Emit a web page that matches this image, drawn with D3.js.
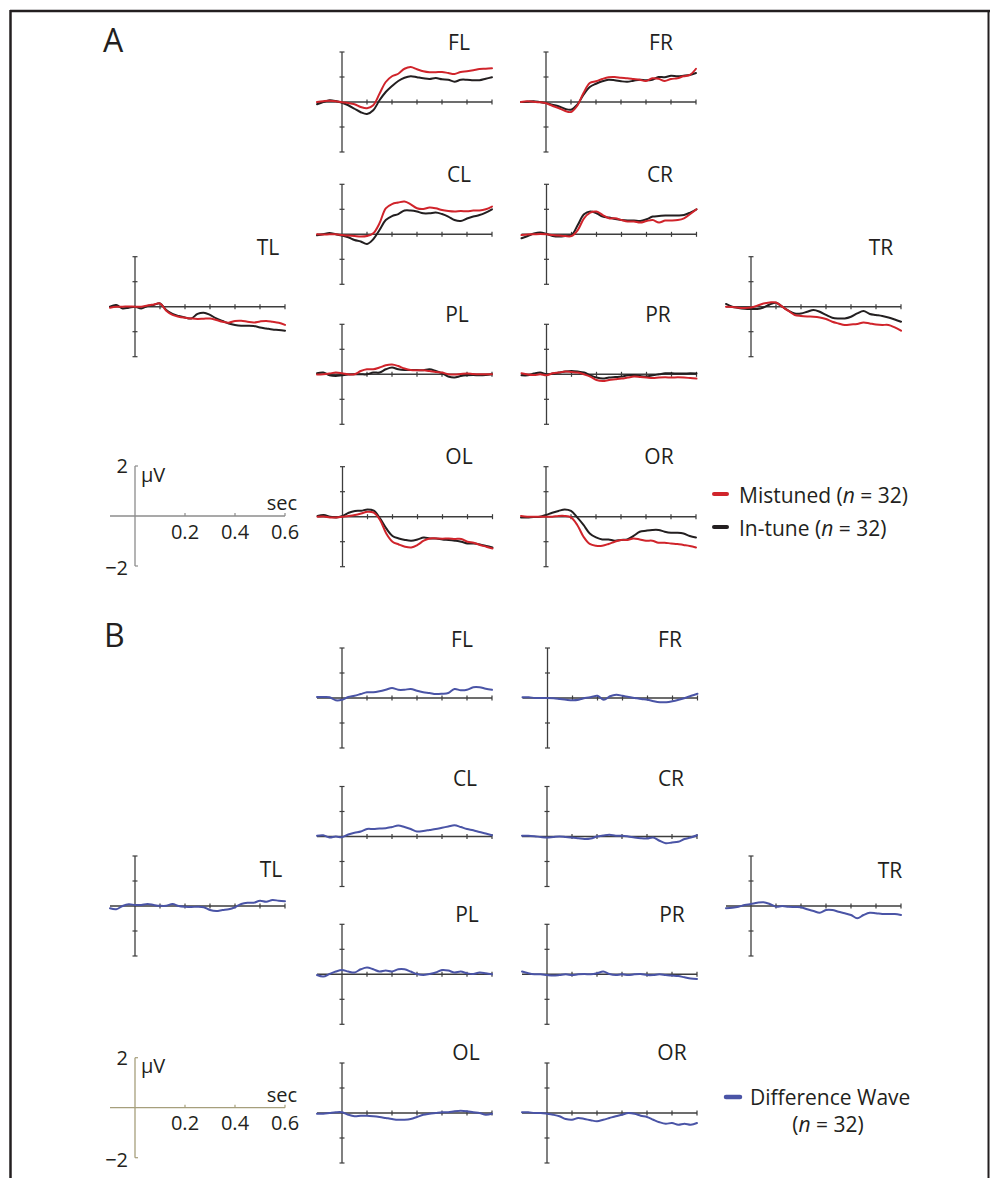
<!DOCTYPE html>
<html><head><meta charset="utf-8">
<script src="https://cdn.jsdelivr.net/npm/d3@7"></script>
<style>
html,body{margin:0;padding:0;background:#fff;}
svg{display:block;}
text{font-family:"Open Sans","Noto Sans",sans-serif;fill:#231f20;}
</style></head>
<body>
<svg id="chart" width="990" height="1178"></svg>
<script>
// ---------- DATA ----------
const times = [-0.1,-0.075,-0.05,-0.025,0,0.025,0.05,0.075,0.1,0.125,0.15,0.175,0.2,0.225,0.25,0.275,0.3,0.325,0.35,0.375,0.4,0.425,0.45,0.475,0.5,0.525,0.55,0.575,0.6];
const xTicks = [0.1,0.2,0.3,0.4,0.5,0.6];
const yTicks = [-2,-1,1,2];
const scaleXTicks = [0.2,0.4,0.6];
const scaleXTickLabels = ["0.2","0.4","0.6"];
const electrodes = ["FL","FR","CL","CR","TL","TR","PL","PR","OL","OR"];
const legendA = ["Mistuned","In-tune"];
const legendB = ["Difference Wave"];

// Panel A: mistuned (red) and in-tune (black), µV
const mistunedFL = [0,0.03,0.05,0.03,-0.01,-0.04,-0.09,-0.2,-0.25,-0.13,0.33,0.8,1.03,1.13,1.33,1.4,1.31,1.23,1.19,1.19,1.2,1.16,1.12,1.2,1.23,1.27,1.32,1.33,1.35];
const intuneFL   = [-0.09,0,0.07,0.04,-0.03,-0.13,-0.27,-0.41,-0.48,-0.33,0.07,0.4,0.64,0.84,0.97,1.03,0.99,0.95,0.92,0.96,0.91,0.89,0.81,0.89,0.89,0.87,0.87,0.93,0.99];
const mistunedFR = [0,0.03,0.01,-0.01,-0.05,-0.15,-0.24,-0.35,-0.4,-0.15,0.36,0.76,0.83,0.92,0.99,1.0,0.97,0.95,0.92,0.89,0.84,0.95,0.93,0.84,0.92,0.95,1.03,1.08,1.33];
const intuneFR   = [0,0.01,0.03,0,-0.04,-0.11,-0.17,-0.27,-0.31,-0.11,0.29,0.6,0.73,0.83,0.89,0.87,0.83,0.81,0.85,0.89,0.87,0.89,1.0,0.99,1.05,1.03,1.05,1.08,1.16];
const mistunedCL = [0,-0.01,0,0,-0.03,-0.05,-0.07,-0.09,-0.07,0.04,0.44,1.04,1.21,1.27,1.31,1.2,1.04,1.01,1.07,1.04,0.97,0.93,0.91,0.93,0.92,0.95,0.95,1.0,1.11];
const intuneCL   = [-0.04,0,0.05,0,-0.05,-0.12,-0.23,-0.29,-0.39,-0.2,0.17,0.57,0.73,0.81,0.95,0.95,0.91,0.84,0.84,0.87,0.81,0.71,0.57,0.53,0.63,0.71,0.77,0.87,1.0];
const mistunedCR = [-0.03,-0.01,0,0.01,0,-0.03,-0.05,-0.07,-0.07,0.17,0.64,0.87,0.91,0.77,0.64,0.64,0.57,0.51,0.51,0.47,0.53,0.57,0.47,0.55,0.55,0.57,0.64,0.81,1.0];
const intuneCR   = [-0.16,-0.07,0.03,0.07,0.01,-0.07,-0.09,-0.07,-0.03,0.37,0.8,0.91,0.84,0.71,0.67,0.61,0.57,0.55,0.55,0.53,0.6,0.71,0.73,0.75,0.75,0.75,0.77,0.87,1.0];
const mistunedTL = [-0.04,0,0,0.01,0,0,0.05,0.09,0.13,-0.16,-0.33,-0.4,-0.44,-0.47,-0.49,-0.48,-0.47,-0.53,-0.6,-0.64,-0.57,-0.56,-0.6,-0.63,-0.59,-0.57,-0.6,-0.64,-0.73];
const intuneTL   = [0,0.07,-0.07,-0.04,0,-0.07,0.03,0.07,0.13,-0.13,-0.29,-0.37,-0.43,-0.47,-0.29,-0.24,-0.33,-0.47,-0.57,-0.67,-0.73,-0.76,-0.76,-0.77,-0.83,-0.87,-0.91,-0.93,-0.96];
const mistunedTR = [0,-0.01,-0.04,-0.05,-0.03,0.04,0.13,0.17,0.17,0,-0.17,-0.33,-0.37,-0.39,-0.4,-0.43,-0.49,-0.6,-0.67,-0.73,-0.71,-0.69,-0.63,-0.67,-0.71,-0.73,-0.73,-0.83,-0.96];
const intuneTR   = [0.11,0,-0.05,-0.08,-0.09,-0.09,-0.03,0.09,0.16,0,-0.16,-0.27,-0.27,-0.2,-0.13,-0.2,-0.33,-0.44,-0.47,-0.47,-0.4,-0.27,-0.17,-0.29,-0.33,-0.37,-0.43,-0.51,-0.6];
const mistunedPL = [-0.01,0,0.03,0.07,0.04,0,0,0.13,0.2,0.2,0.27,0.36,0.39,0.33,0.23,0.17,0.16,0.16,0.13,0.09,0.07,0,-0.01,0.01,0.03,0.01,0,0,0];
const intunePL   = [0.04,0.07,-0.04,-0.07,-0.04,-0.01,0,0,0,0.07,0.07,0.2,0.27,0.2,0.17,0.17,0.17,0.16,0.2,0.13,0.04,-0.09,-0.13,-0.07,-0.04,-0.03,-0.04,-0.03,0];
const mistunedPR = [0.04,-0.01,-0.03,0,-0.04,0.04,0.07,0.11,0.09,0.07,0,-0.09,-0.23,-0.27,-0.23,-0.2,-0.17,-0.13,-0.09,-0.11,-0.13,-0.15,-0.13,-0.12,-0.13,-0.12,-0.13,-0.15,-0.17];
const intunePR   = [-0.04,-0.04,0.03,0.07,0,0.03,0.07,0.11,0.13,0.11,0.07,-0.04,-0.13,-0.17,-0.13,-0.11,-0.09,-0.04,-0.03,-0.07,-0.09,-0.04,0,0.04,0.04,0.03,0.03,0.04,0.03];
const mistunedOL = [0,0.01,-0.03,-0.03,0,0.03,0.07,0.13,0.2,0.16,-0.13,-0.67,-1.0,-1.11,-1.2,-1.23,-1.13,-0.96,-0.87,-0.87,-0.88,-0.87,-0.89,-0.89,-1.0,-1.04,-1.13,-1.2,-1.27];
const intuneOL   = [0.03,0.07,0,-0.03,0.03,0.16,0.23,0.24,0.29,0.24,-0.07,-0.47,-0.77,-0.87,-0.93,-0.96,-0.91,-0.83,-0.87,-0.87,-0.91,-0.93,-0.96,-1.0,-1.07,-1.07,-1.11,-1.17,-1.23];
const mistunedOR = [0.03,0,0,0,0,0,0.03,0.03,-0.03,-0.33,-0.8,-1.09,-1.16,-1.16,-1.09,-1.0,-0.93,-0.93,-0.87,-0.91,-0.96,-0.96,-1.04,-1.04,-1.07,-1.09,-1.13,-1.17,-1.23];
const intuneOR   = [-0.03,-0.03,-0.01,0,0.07,0.16,0.23,0.29,0.23,-0.03,-0.33,-0.67,-0.83,-0.91,-0.91,-0.96,-0.93,-0.91,-0.77,-0.6,-0.56,-0.53,-0.53,-0.6,-0.64,-0.64,-0.67,-0.77,-0.83];

// Panel B: difference waves, µV
const diffFL = [0.04,0.04,0.03,-0.09,-0.07,0.04,0.09,0.16,0.23,0.23,0.27,0.33,0.4,0.33,0.33,0.36,0.29,0.23,0.2,0.16,0.17,0.2,0.36,0.31,0.33,0.43,0.43,0.37,0.33];
const diffFR = [0.03,0.03,0,0,0,-0.01,-0.04,-0.07,-0.09,-0.07,0,0.04,0.09,-0.07,0.07,0.13,0.09,0.04,0,-0.04,-0.07,-0.13,-0.17,-0.17,-0.13,-0.07,0,0.09,0.17];
const diffCL = [0.03,0.05,-0.04,0,-0.03,0.08,0.15,0.2,0.3,0.3,0.32,0.33,0.38,0.44,0.38,0.3,0.2,0.22,0.26,0.3,0.35,0.4,0.45,0.38,0.3,0.25,0.18,0.12,0.05];
const diffCR = [0.03,0.03,0.01,-0.02,-0.04,-0.02,0,-0.02,-0.04,-0.07,-0.1,-0.08,0,0.04,0.07,0.03,0.03,0,-0.04,-0.07,-0.08,-0.04,-0.17,-0.27,-0.24,-0.21,-0.1,-0.04,0.05];
const diffTL = [-0.09,-0.13,0,0.07,0.04,0.04,0.08,0.04,0.01,0.01,0.08,0,-0.03,-0.04,-0.03,-0.05,-0.16,-0.2,-0.16,-0.13,-0.05,0.08,0.13,0.13,0.21,0.17,0.24,0.21,0.19];
const diffTR = [-0.09,-0.07,-0.03,0.04,0.08,0.13,0.15,0.08,-0.03,0,-0.03,-0.04,-0.05,-0.13,-0.2,-0.27,-0.16,-0.16,-0.23,-0.29,-0.36,-0.49,-0.36,-0.27,-0.29,-0.32,-0.32,-0.32,-0.36];
const diffPL = [-0.03,-0.09,0.01,0.11,0.17,0.11,0.07,0.2,0.27,0.2,0.11,0.15,0.11,0.2,0.2,0.11,0.01,-0.03,0.01,0.07,0.17,0.15,0.07,0.11,0.04,0.01,0.07,0.04,0];
const diffPR = [0.11,0.04,0,0,-0.03,-0.05,-0.03,0,-0.03,0,0.01,0,0.04,0.11,0.01,-0.03,0,-0.03,0,0.01,-0.03,-0.03,0,-0.03,-0.05,-0.07,-0.12,-0.17,-0.19];
const diffOL = [-0.03,-0.03,0,0.03,0.03,-0.07,-0.13,-0.11,-0.11,-0.13,-0.16,-0.2,-0.24,-0.27,-0.27,-0.24,-0.16,-0.07,-0.03,0,0.03,0.03,0.07,0.09,0.07,0.03,0,-0.07,-0.03];
const diffOR = [0.03,0.03,0,0,-0.03,-0.07,-0.13,-0.24,-0.27,-0.2,-0.24,-0.29,-0.33,-0.27,-0.2,-0.13,-0.07,0,-0.03,-0.11,-0.16,-0.27,-0.37,-0.43,-0.4,-0.47,-0.43,-0.47,-0.4];

// ---------- LAYOUT ----------
const svg = d3.select("#chart");
const INK = "#231f20", AXIS = "#3d3d3d";
const RED = "#d0242b", BLUE = "#4a54a6";

// frame
svg.append("line").attr("x1",10).attr("x2",990).attr("y1",11).attr("y2",11).attr("stroke",INK).attr("stroke-width",2.5);
svg.append("line").attr("x1",10.5).attr("x2",10.5).attr("y1",10).attr("y2",1178).attr("stroke",INK).attr("stroke-width",2.5);
svg.append("line").attr("x1",988.5).attr("x2",988.5).attr("y1",10).attr("y2",1178).attr("stroke",INK).attr("stroke-width",2);

svg.append("text").attr("x",103).attr("y",51.5).attr("font-size",32).text("A");
svg.append("text").attr("x",104).attr("y",647).attr("font-size",32).text("B");

function makeScales(x0,y0){
  const x = d3.scaleLinear().domain([-0.1,0.6]).range([x0-25,x0+150]);
  const y = d3.scaleLinear().domain([-2,2]).range([y0+50,y0-50]);
  return {x,y};
}

function panel(p, series){
  const {x,y} = makeScales(p.x0,p.y0);
  const g = svg.append("g");
  g.append("line").attr("x1",x(0)).attr("x2",x(0)).attr("y1",y(2)).attr("y2",y(-2)).attr("stroke",AXIS).attr("stroke-width",1.3);
  g.selectAll(".yt").data(yTicks).enter().append("line")
    .attr("x1",x(0)-2.5).attr("x2",x(0)+2.5).attr("y1",d=>y(d)).attr("y2",d=>y(d)).attr("stroke",AXIS).attr("stroke-width",1.2);
  g.append("line").attr("x1",x(-0.1)).attr("x2",x(0.6)).attr("y1",y(0)).attr("y2",y(0)).attr("stroke",AXIS).attr("stroke-width",1.4);
  g.selectAll(".xt").data(xTicks).enter().append("line")
    .attr("x1",d=>x(d)).attr("x2",d=>x(d)).attr("y1",y(0)-2.5).attr("y2",y(0)+2.5).attr("stroke",AXIS).attr("stroke-width",1.2);
  g.append("text").attr("x",p.lx).attr("y",p.ly).attr("text-anchor","middle").attr("font-size",21).text(p.name);
  const line = d3.line().x((d,i)=>x(times[i])).y(d=>y(d)).curve(d3.curveCatmullRom.alpha(0.5));
  series.forEach(s=>{
    g.append("path").attr("d",line(s.values)).attr("fill","none").attr("stroke",s.color)
      .attr("stroke-width",2).attr("stroke-linejoin","round").attr("stroke-linecap","round");
  });
}

function scaleAxis(x0,y0,color){
  const {x,y} = makeScales(x0,y0);
  const g = svg.append("g");
  g.append("line").attr("x1",x(0)).attr("x2",x(0)).attr("y1",y(2)).attr("y2",y(-2)).attr("stroke",color).attr("stroke-width",1.3);
  [2,-2].forEach(v=>g.append("line").attr("x1",x(0)).attr("x2",x(0)+3).attr("y1",y(v)).attr("y2",y(v)).attr("stroke",color).attr("stroke-width",1.2));
  g.append("line").attr("x1",x(-0.1)).attr("x2",x(0.6)).attr("y1",y(0)).attr("y2",y(0)).attr("stroke",color).attr("stroke-width",1.3);
  g.selectAll(".st").data(scaleXTicks).enter().append("line")
    .attr("x1",d=>x(d)).attr("x2",d=>x(d)).attr("y1",y(0)-3).attr("y2",y(0)).attr("stroke",color).attr("stroke-width",1.2);
  g.selectAll(".sl").data(scaleXTicks).enter().append("text")
    .attr("x",d=>x(d)).attr("y",y(0)+22.5).attr("text-anchor","middle").attr("font-size",20)
    .text((d,i)=>scaleXTickLabels[i]);
  g.append("text").attr("x",x(0)-7).attr("y",y(2)+7).attr("text-anchor","end").attr("font-size",20).text("2");
  g.append("text").attr("x",x(0)-7).attr("y",y(-2)+9).attr("text-anchor","end").attr("font-size",20).text("\u22122");
  g.append("text").attr("x",x(0)+6).attr("y",y(2)+15.5).attr("font-size",20).text("\u00b5V");
  g.append("text").attr("x",x(0.6)-3).attr("y",y(0)-6).attr("text-anchor","middle").attr("font-size",20).text("sec");
}

// Panel A
const layoutA = {
  FL:{x0:342,y0:102,lx:459,ly:50}, FR:{x0:546,y0:102,lx:661,ly:50},
  CL:{x0:342,y0:234.3,lx:459,ly:182.3}, CR:{x0:546.5,y0:234.3,lx:660,ly:182.3},
  TL:{x0:135,y0:306.7,lx:268,ly:255}, TR:{x0:751,y0:306.7,lx:881,ly:255},
  PL:{x0:342,y0:374.3,lx:457,ly:322.3}, PR:{x0:546.5,y0:374.3,lx:658,ly:322.3},
  OL:{x0:342.5,y0:516.7,lx:459,ly:464.3}, OR:{x0:546,y0:516.7,lx:659,ly:464.3}
};
const dataA = {
  FL:[intuneFL,mistunedFL], FR:[intuneFR,mistunedFR], CL:[intuneCL,mistunedCL], CR:[intuneCR,mistunedCR],
  TL:[intuneTL,mistunedTL], TR:[intuneTR,mistunedTR], PL:[intunePL,mistunedPL], PR:[intunePR,mistunedPR],
  OL:[intuneOL,mistunedOL], OR:[intuneOR,mistunedOR]
};
electrodes.forEach(e=>{
  const p = Object.assign({name:e}, layoutA[e]);
  panel(p,[{values:dataA[e][0],color:INK},{values:dataA[e][1],color:RED}]);
});
scaleAxis(135,516,"#8c8c8c");

// Legend A
[[legendA[0],RED,494,503],[legendA[1],INK,527,536]].forEach(([lab,col,ly,ty])=>{
  svg.append("line").attr("x1",714).attr("x2",727).attr("y1",ly).attr("y2",ly).attr("stroke",col).attr("stroke-width",4).attr("stroke-linecap","round");
  const t = svg.append("text").attr("x",739).attr("y",ty).attr("font-size",21);
  t.append("tspan").text(lab+" (");
  t.append("tspan").attr("font-style","italic").text("n");
  t.append("tspan").text(" = 32)");
});

// Panel B
const layoutB = {
  FL:{x0:342,y0:698,lx:462,ly:647}, FR:{x0:547.5,y0:698,lx:670,ly:647},
  CL:{x0:342,y0:836.5,lx:465,ly:786}, CR:{x0:547,y0:836.5,lx:671,ly:786},
  TL:{x0:135,y0:906,lx:271,ly:877}, TR:{x0:751,y0:906,lx:890,ly:878},
  PL:{x0:342,y0:974.3,lx:467,ly:921.5}, PR:{x0:547,y0:974.3,lx:672,ly:921.5},
  OL:{x0:342,y0:1113,lx:466,ly:1060}, OR:{x0:547,y0:1113,lx:672,ly:1060}
};
const dataB = {FL:diffFL,FR:diffFR,CL:diffCL,CR:diffCR,TL:diffTL,TR:diffTR,PL:diffPL,PR:diffPR,OL:diffOL,OR:diffOR};
electrodes.forEach(e=>{
  const p = Object.assign({name:e}, layoutB[e]);
  panel(p,[{values:dataB[e],color:BLUE}]);
});
scaleAxis(135,1107.7,"#a69f7c");

// Legend B
svg.append("line").attr("x1",726).attr("x2",740).attr("y1",1097).attr("y2",1097).attr("stroke",BLUE).attr("stroke-width",4.5).attr("stroke-linecap","round");
svg.append("text").attr("x",750).attr("y",1105).attr("font-size",21).text(legendB[0]);
const tb = svg.append("text").attr("x",828).attr("y",1131.5).attr("font-size",21).attr("text-anchor","middle");
tb.append("tspan").text("(");
tb.append("tspan").attr("font-style","italic").text("n");
tb.append("tspan").text(" = 32)");
</script>
</body></html>
